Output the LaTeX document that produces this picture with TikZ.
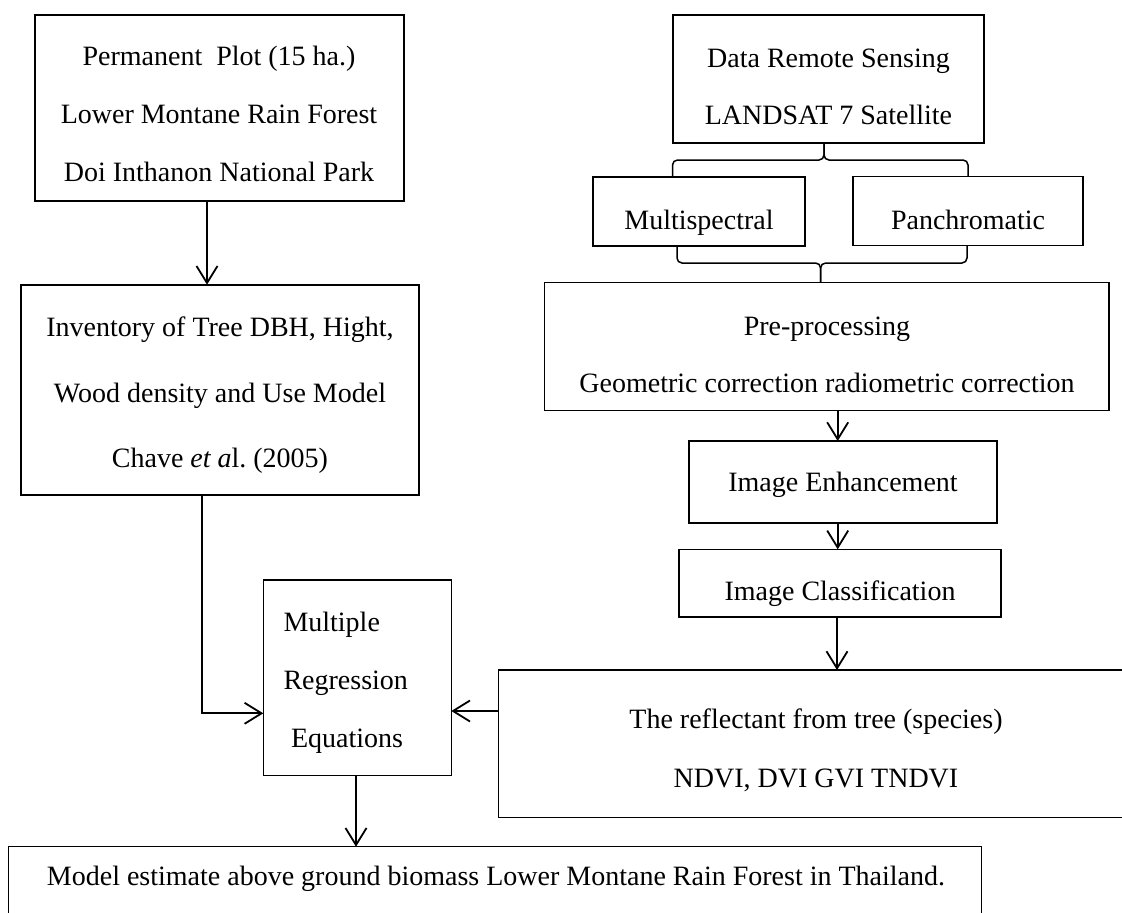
\documentclass[tikz,border=0pt]{standalone}
\usepackage{fontspec}
\setmainfont{Liberation Serif}
\usetikzlibrary{arrows.meta}
\frenchspacing
\begin{document}
\begin{tikzpicture}[x=1pt,y=-1pt,
  thickbox/.style={draw,line width=2pt,inner sep=0pt,outer sep=0pt},
  thinbox/.style={draw,line width=1.2pt,inner sep=0pt,outer sep=0pt},
  txt/.style={font=\fontsize{28}{34}\selectfont,inner sep=0pt,text height=19pt,text depth=0pt},
  arr/.style={line width=1.8pt,-{Straight Barb[length=17pt,width=21pt]}},
  brace/.style={line width=1.5pt,rounded corners=5pt}]
\clip (0,0) rectangle (1122,913);
\useasboundingbox (0,0) rectangle (1122,913);

% boxes
\node[thickbox,minimum width=369pt,minimum height=186.3pt] (plot) at (219.1,107.85) {};
\node[thickbox,minimum width=398.6pt,minimum height=210.3pt] (inv) at (220,389.85) {};
\node[thickbox,minimum width=311pt,minimum height=128.6pt] (data) at (828.5,79) {};
\node[thickbox,minimum width=212pt,minimum height=69pt] (ms) at (699,211.2) {};
\node[thinbox,minimum width=230pt,minimum height=69pt] (pan) at (968,211.2) {};
\node[thinbox,minimum width=564.5pt,minimum height=128pt] (pre) at (826.75,346.7) {};
\node[thinbox,minimum width=308pt,minimum height=82pt] (ie) at (843,482) {};
\node[thinbox,minimum width=322pt,minimum height=67.7pt] (ic) at (840,583.15) {};
\node[thinbox,minimum width=188pt,minimum height=195.5pt] (mre) at (357.3,677.75) {};
\node[thinbox,minimum width=636.3pt,minimum height=147.7pt] (refl) at (816.85,743.85) {};
\node[thinbox,minimum width=973.4pt,minimum height=78.3pt] (bot) at (495,885.85) {};

% texts
\node[txt] (plotA) at (219,56) {Permanent\ \ Plot (15 ha.)};
\node[txt] (plotB) at (219,114) {Lower Montane Rain Forest};
\node[txt] (plotC) at (219,172) {Doi Inthanon National Park};
\node[txt] (invA) at (220,326.7) {Inventory of Tree DBH, Hight,};
\node[txt] (invB) at (220,393) {Wood density and Use Model};
\node[txt] (invC) at (220,458.3) {Chave \textit{et a}l. (2005)};
\node[txt] (dataA) at (828.5,57.5) {Data Remote Sensing};
\node[txt] (dataB) at (828.5,115) {LANDSAT 7 Satellite};
\node[txt] (msT) at (699,220) {Multispectral};
\node[txt] (panT) at (968,220) {Panchromatic};
\node[txt] (preA) at (827,326) {Pre-processing};
\node[txt] (preB) at (827,382.5) {Geometric correction radiometric correction};
\node[txt] (ieT) at (843,482) {Image Enhancement};
\node[txt] (icT) at (840,590.5) {Image Classification};
\node[txt,anchor=west] (mreA) at (283.3,622) {Multiple};
\node[txt,anchor=west] (mreB) at (283.3,680) {Regression};
\node[txt,anchor=west] (mreC) at (290.9,738.3) {Equations};
\node[txt] (reflA) at (816,719) {The reflectant from tree (species)};
\node[txt] (reflB) at (816,777.5) {NDVI, DVI GVI TNDVI};
\node[txt] (botT) at (496,876) {Model estimate above ground biomass Lower Montane Rain Forest in Thailand.};

% braces
\coordinate (bL1) at (672.5,0);
\coordinate (bR1) at (968,0);
\coordinate (t1) at (824,160);
\draw[brace] (ms.north -| bL1) |- (t1) -- (data.south -| t1);
\draw[brace] (pan.north -| bR1) |- (t1) -- (data.south -| t1);
\coordinate (bL2) at (677,0);
\coordinate (bR2) at (967,0);
\coordinate (t2) at (820.6,263);
\draw[brace] (ms.south -| bL2) |- (t2) -- (pre.north -| t2);
\draw[brace] (pan.south -| bR2) |- (t2) -- (pre.north -| t2);

% connectors
\coordinate (c1) at (207,0);
\draw[arr] (plot.south -| c1) -- (inv.north -| c1);
\coordinate (c2) at (202.3,713.3);
\draw[arr] (inv.south -| c2) |- (mre.west |- c2);
\coordinate (c3) at (0,711);
\draw[arr] (refl.west |- c3) -- (mre.east |- c3);
\coordinate (c4) at (356,0);
\draw[arr] (mre.south -| c4) -- (bot.north -| c4);
\coordinate (c5) at (837.7,0);
\draw[arr] (pre.south -| c5) -- (ie.north -| c5);
\draw[arr] (ie.south -| c5) -- (ic.north -| c5);
\coordinate (c6) at (837,0);
\draw[arr] (ic.south -| c6) -- (refl.north -| c6);
\end{tikzpicture}
\end{document}
